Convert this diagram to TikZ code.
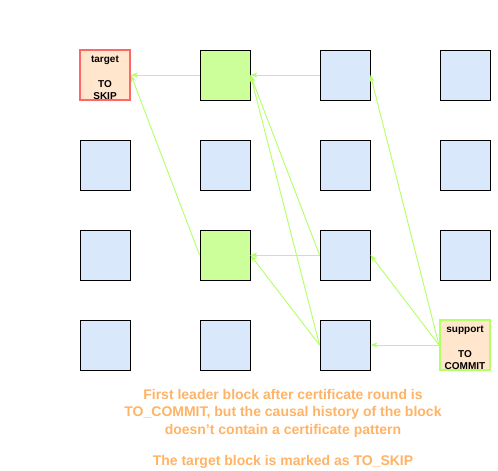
\documentclass[tikz,border=0pt]{standalone}
\usepackage{fontspec}
\setmainfont{Liberation Sans}
\usetikzlibrary{arrows.meta}
\definecolor{blockblue}{HTML}{DAE8FC}
\definecolor{blockgreen}{HTML}{CCFF99}
\definecolor{linkgreen}{HTML}{B3FF66}
\definecolor{skipred}{HTML}{FF6666}
\definecolor{tagfill}{HTML}{FFE6CC}
\definecolor{noteorange}{HTML}{FFB366}
\tikzset{
    block/.style={draw=black, line width=0.9pt, fill=blockblue, minimum size=50pt, inner sep=0pt},
    leader/.style={block, fill=blockgreen},
    tagged/.style={block, fill=tagfill, line width=2pt},
    tagtext/.style={align=center, inner sep=0pt, yshift=-3pt,
            font=\bfseries\fontsize{10}{12.3}\selectfont},
    link/.style={draw=linkgreen, line width=0.9pt, -{Stealth[length=7pt,width=5pt,inset=2pt]}},
}

\begin{document}
\begin{tikzpicture}[x=1pt, y=-1pt]
        \useasboundingbox (0, 0) rectangle (498, 471);
        %draw plain blocks
        \foreach \c/\r in {1/2, 1/3, 1/4, 2/2, 2/4, 3/1, 3/2, 3/3, 3/4, 4/1, 4/2, 4/3}
            \node[block] (b\c\r) at ({105 + 120*(\c-1)}, {75 + 90*(\r-1)}) {};
        %draw leader blocks
        \node[leader] (b21) at (225, 75) {};
        \node[leader] (b23) at (225, 255) {};
        %draw target and support
        \node[tagged, draw=skipred, label={[tagtext]center:target\\[12.3pt]TO\\SKIP}] (b11) at (105, 75) {};
        \node[tagged, draw=linkgreen, label={[tagtext]center:support\\[12.3pt]TO\\COMMIT}] (b44) at (465, 345) {};
        %draw references
        \draw[link] (b21.west) -- (b11.east);
        \draw[link] (b23.west) -- (b11.east);
        \draw[link] (b31.west) -- (b21.east);
        \draw[link] (b33.west) -- (b21.east);
        \draw[link] (b34.west) -- (b21.east);
        \draw[link] (b33.west) -- (b23.east);
        \draw[link] (b34.west) -- (b23.east);
        \draw[link] (b44.west) -- (b31.east);
        \draw[link] (b44.west) -- (b33.east);
        \draw[link] (b44.west) -- (b34.east);
        %label the picture
        \node[anchor=north, inner sep=0pt, align=center, text=noteorange,
            font=\bfseries\fontsize{14}{17.5}\selectfont] (note) at (283, 389)
            {First leader block after certificate round is\\
             TO\_COMMIT, but the causal history of the block\\
             doesn't contain a certificate pattern\\[14pt]
             The target block is marked as TO\_SKIP};
    \end{tikzpicture}
\end{document}
